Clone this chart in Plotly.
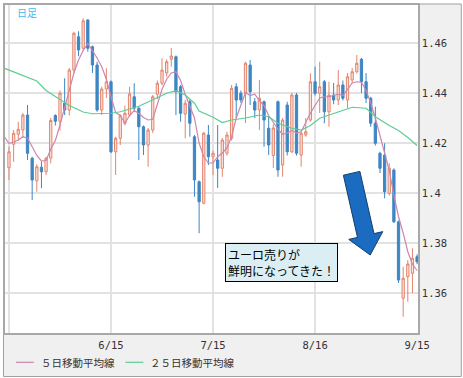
import pandas as pd
import plotly.graph_objects as go

# ---------------- data (EUR/USD daily) ----------------
# business days; first entry (5/13) only carries moving-average values
dates_all = [d.strftime("%Y-%m-%d") for d in pd.bdate_range("2011-05-13", "2011-09-15")]
candle_dates = dates_all[1:]

opens = [
    1.4101, 1.4195, 1.4235, 1.4252, 1.4312, 1.4139, 1.4049, 1.4103, 1.4085, 1.4140,
    1.4310, 1.4287, 1.4359, 1.4332, 1.4492, 1.4625, 1.4579, 1.4692, 1.4585, 1.4512,
    1.4332, 1.4416, 1.4445, 1.4165, 1.4219, 1.4279, 1.4312, 1.4385, 1.4339, 1.4265,
    1.4192, 1.4252, 1.4395, 1.4439, 1.4480, 1.4535, 1.4545, 1.4425, 1.4316, 1.4365,
    1.4225, 1.4045, 1.3959, 1.4232, 1.4145, 1.4132, 1.4099, 1.4159, 1.4219, 1.4425,
    1.4399, 1.4399, 1.4512, 1.4365, 1.4332, 1.4365, 1.4259, 1.4150, 1.4365, 1.4112,
    1.4352, 1.4165, 1.4392, 1.4152, 1.4232, 1.4292, 1.4445, 1.4399, 1.4445, 1.4325,
    1.4392, 1.4372, 1.4432, 1.4372, 1.4452, 1.4485, 1.4535, 1.4445, 1.4379, 1.4279,
    1.4159, 1.4152, 1.3999, 1.4092, 1.3885, 1.3579, 1.3665, 1.3679, 1.3745,
]
highs = [
    1.4185, 1.4252, 1.4285, 1.4320, 1.4352, 1.4145, 1.4115, 1.4125, 1.4145, 1.4300,
    1.4315, 1.4410, 1.4459, 1.4500, 1.4645, 1.4647, 1.4699, 1.4695, 1.4590, 1.4525,
    1.4425, 1.4499, 1.4450, 1.4225, 1.4315, 1.4350, 1.4425, 1.4439, 1.4345, 1.4270,
    1.4260, 1.4392, 1.4450, 1.4539, 1.4535, 1.4580, 1.4550, 1.4432, 1.4372, 1.4372,
    1.4232, 1.4050, 1.4245, 1.4272, 1.4170, 1.4272, 1.4220, 1.4245, 1.4432, 1.4439,
    1.4410, 1.4525, 1.4532, 1.4380, 1.4452, 1.4370, 1.4305, 1.4275, 1.4370, 1.4300,
    1.4365, 1.4400, 1.4400, 1.4245, 1.4300, 1.4479, 1.4505, 1.4525, 1.4452, 1.4445,
    1.4440, 1.4492, 1.4450, 1.4480, 1.4500, 1.4552, 1.4540, 1.4480, 1.4385, 1.4345,
    1.4165, 1.4199, 1.4119, 1.4099, 1.3890, 1.3705, 1.3732, 1.3779, 1.3755,
]
lows = [
    1.4052, 1.4125, 1.4210, 1.4220, 1.4132, 1.3972, 1.4005, 1.4019, 1.4072, 1.4119,
    1.4270, 1.4250, 1.4312, 1.4310, 1.4480, 1.4547, 1.4570, 1.4565, 1.4480, 1.4325,
    1.4312, 1.4380, 1.4160, 1.4072, 1.4192, 1.4270, 1.4305, 1.4325, 1.4132, 1.4152,
    1.4105, 1.4240, 1.4375, 1.4430, 1.4465, 1.4505, 1.4312, 1.4285, 1.4219, 1.4225,
    1.3985, 1.3839, 1.3955, 1.4112, 1.4072, 1.4020, 1.4065, 1.4150, 1.4210, 1.4299,
    1.4360, 1.4280, 1.4352, 1.4300, 1.4252, 1.4185, 1.4152, 1.4100, 1.4065, 1.4065,
    1.4150, 1.4160, 1.4150, 1.4105, 1.4225, 1.4285, 1.4390, 1.4320, 1.4279, 1.4265,
    1.4355, 1.4352, 1.4370, 1.4340, 1.4440, 1.4478, 1.4400, 1.4360, 1.4265, 1.4190,
    1.4080, 1.3979, 1.3990, 1.3880, 1.3640, 1.3505, 1.3565, 1.3600, 1.3715,
]
closes = [
    1.4165, 1.4239, 1.4255, 1.4312, 1.4159, 1.4052, 1.4105, 1.4085, 1.4139, 1.4290,
    1.4287, 1.4399, 1.4332, 1.4492, 1.4639, 1.4572, 1.4689, 1.4579, 1.4512, 1.4332,
    1.4416, 1.4445, 1.4165, 1.4219, 1.4309, 1.4319, 1.4396, 1.4339, 1.4265, 1.4192,
    1.4252, 1.4385, 1.4439, 1.4492, 1.4525, 1.4548, 1.4405, 1.4319, 1.4359, 1.4279,
    1.4052, 1.3965, 1.4239, 1.4145, 1.4159, 1.4099, 1.4212, 1.4232, 1.4419, 1.4372,
    1.4372, 1.4519, 1.4405, 1.4332, 1.4379, 1.4292, 1.4192, 1.4260, 1.4092, 1.4292,
    1.4165, 1.4392, 1.4159, 1.4239, 1.4245, 1.4445, 1.4399, 1.4425, 1.4325, 1.4392,
    1.4372, 1.4432, 1.4379, 1.4465, 1.4485, 1.4519, 1.4445, 1.4379, 1.4279, 1.4199,
    1.4099, 1.4005, 1.4099, 1.3885, 1.3652, 1.3659, 1.3716, 1.3739, 1.3725,
]

# 5-day moving average as drawn (one value per entry of dates_all)
ma5 = [
    1.4225, 1.4199, 1.4203, 1.4212, 1.4225, 1.4219, 1.4185, 1.4150, 1.4128, 1.4130,
    1.4175, 1.4210, 1.4272, 1.4340, 1.4405, 1.4480, 1.4532, 1.4570, 1.4598, 1.4570,
    1.4540, 1.4505, 1.4455, 1.4385, 1.4322, 1.4310, 1.4280, 1.4310, 1.4330, 1.4318,
    1.4302, 1.4292, 1.4295, 1.4355, 1.4415, 1.4455, 1.4480, 1.4485, 1.4450, 1.4395,
    1.4350, 1.4300, 1.4200, 1.4145, 1.4120, 1.4120, 1.4145, 1.4160, 1.4180, 1.4225,
    1.4300, 1.4355, 1.4402, 1.4390, 1.4395, 1.4370, 1.4350, 1.4310, 1.4280, 1.4255,
    1.4235, 1.4240, 1.4250, 1.4240, 1.4245, 1.4285, 1.4320, 1.4350, 1.4380, 1.4385,
    1.4385, 1.4390, 1.4395, 1.4390, 1.4415, 1.4440, 1.4445, 1.4443, 1.4410, 1.4360,
    1.4300, 1.4230, 1.4150, 1.4090, 1.3990, 1.3905, 1.3840, 1.3765, 1.3715, 1.3690,
]

# 25-day moving average, read at selected bars (bar number -> value; -1 = 5/13)
ma25_bars = [-1, 3, 6, 8, 10, 13, 16, 18, 22, 24, 28, 31, 34, 36, 38, 40, 41, 44, 46,
             48, 51, 54, 56, 58, 61, 63, 65, 67, 70, 72, 74, 77, 79, 82, 84, 86, 88]
ma25_vals = [1.4499, 1.4470, 1.4448, 1.4410, 1.4387, 1.4350, 1.4324, 1.4317, 1.4319,
             1.4325, 1.4347, 1.4372, 1.4399, 1.4409, 1.4392, 1.4359, 1.4328, 1.4303,
             1.4282, 1.4292, 1.4300, 1.4312, 1.4305, 1.4279, 1.4259, 1.4252, 1.4270,
             1.4299, 1.4319, 1.4332, 1.4343, 1.4339, 1.4305, 1.4270, 1.4250, 1.4222,
             1.4190]
ma25_dates = [dates_all[b + 1] for b in ma25_bars]

series_names = ["５日移動平均線", "２５日移動平均線"]
x_tickvals = ["2011-05-16", "2011-06-15", "2011-07-15", "2011-08-16", "2011-09-15"]
x_ticktext = ["", "6/15", "7/15", "8/16", "9/15"]
y_tickvals = [1.36, 1.38, 1.40, 1.42, 1.44, 1.46]
y_ticktext = ["1.36", "1.38", "1.4", "1.42", "1.44", "1.46"]

# ---------------- styling ----------------
W, H = 463, 378
ML, MR, MT, MB = 3, 45, 5, 45
PW, PH = W - ML - MR, H - MT - MB


def paper(px, py):
    return ((px - ML) / PW, 1 - (py - MT) / PH)


UP_LINE = "#e4846c"
UP_FILL = "#fbe2da"
DOWN = "#3d86c4"
MA5_COLOR = "#cf86ab"
MA25_COLOR = "#5ccd92"
MONO = "DejaVu Sans Mono"
JP = "Noto Sans CJK JP"

fig = go.Figure()
fig.add_trace(go.Candlestick(
    x=candle_dates, open=opens, high=highs, low=lows, close=closes,
    increasing=dict(line=dict(color=UP_LINE, width=1), fillcolor=UP_FILL),
    decreasing=dict(line=dict(color=DOWN, width=1), fillcolor=DOWN),
    whiskerwidth=0, showlegend=False, hoverinfo="skip",
))
fig.add_trace(go.Scatter(
    x=dates_all, y=ma5, mode="lines", name=series_names[0],
    line=dict(color=MA5_COLOR, width=1.2),
))
fig.add_trace(go.Scatter(
    x=ma25_dates, y=ma25_vals, mode="lines", name=series_names[1],
    line=dict(color=MA25_COLOR, width=1.2),
))

# arrow outline (pixel positions -> paper coords)
arrow_px = [(343.0, 175.2), (359.6, 171.4), (373.8, 233.6), (382.6, 231.6),
            (370.0, 255.0), (348.4, 239.4), (357.2, 237.4)]
arrow_path = "M " + " L ".join("%.4f,%.4f" % paper(x, y) for x, y in arrow_px) + " Z"

ox0, oy1 = paper(1.5, 4)
ox1, oy0 = paper(461.5, 376.5)

# legend drawn by hand so the short line samples match the original
legend_y = paper(0, 362.3)[1]
legend_items = [(14, 32, 37, MA5_COLOR, series_names[0]),
                (124, 142, 147, MA25_COLOR, series_names[1])]
legend_shapes, legend_texts = [], []
for lx0, lx1, tx, col, name in legend_items:
    legend_shapes.append(dict(type="line", xref="paper", yref="paper",
                              x0=paper(lx0, 0)[0], x1=paper(lx1, 0)[0],
                              y0=legend_y, y1=legend_y,
                              line=dict(color=col, width=1.2)))
    legend_texts.append(dict(text=name, xref="paper", yref="paper",
                             x=paper(tx, 0)[0], y=legend_y, xanchor="left",
                             yanchor="middle", showarrow=False,
                             font=dict(family=JP, size=10.5, color="#333333")))

fig.update_layout(
    width=W, height=H,
    margin=dict(l=ML, r=MR, t=MT, b=MB),
    paper_bgcolor="white", plot_bgcolor="white",
    font=dict(family=MONO, size=10.5, color="#333333"),
    xaxis=dict(
        type="category", categoryorder="array", categoryarray=dates_all,
        range=[0.1416, 89.197], rangeslider=dict(visible=False),
        tickmode="array", tickvals=x_tickvals, ticktext=x_ticktext,
        showgrid=True, gridcolor="#e2e2e2", gridwidth=1.5,
        showline=True, mirror=True, linecolor="#a8a8a8", linewidth=1.5,
        ticks="", ticklabelstandoff=2,
        tickfont=dict(family=MONO, size=10.5, color="#333333"),
        fixedrange=True,
    ),
    yaxis=dict(
        side="right", range=[1.344, 1.4752],
        tickmode="array", tickvals=y_tickvals, ticktext=y_ticktext,
        showgrid=True, gridcolor="#e2e2e2", gridwidth=1.5,
        showline=True, mirror=True, linecolor="#a8a8a8", linewidth=1.5,
        ticks="", zeroline=False,
        tickfont=dict(family=MONO, size=10.5, color="#333333"),
        fixedrange=True,
    ),
    showlegend=False,
    shapes=[
        dict(type="rect", xref="paper", yref="paper", x0=ox0, x1=ox1, y0=oy0, y1=oy1,
             fillcolor="#f0f0f0", line=dict(color="#a0a0a0", width=1), layer="below"),
        dict(type="rect", xref="paper", yref="paper", x0=0, x1=1, y0=0, y1=1,
             fillcolor="white", line=dict(width=0), layer="below"),
        dict(type="path", xref="paper", yref="paper", path=arrow_path,
             fillcolor="#1b6cc0", line=dict(color="#12406e", width=1), layer="above"),
    ] + legend_shapes,
    annotations=[
        dict(text="日足", xref="paper", yref="paper",
             x=paper(13, 0)[0], y=paper(0, 12.5)[1], xanchor="left", yanchor="middle",
             showarrow=False, font=dict(family=JP, size=10, color="#3cbdf0")),
        dict(text="ユーロ売りが<br>鮮明になってきた！", xref="paper", yref="paper",
             x=paper(224, 0)[0], y=paper(0, 243)[1], xanchor="left", yanchor="top",
             align="left", showarrow=False, bgcolor="#daeef4", bordercolor="#000000",
             borderwidth=1, borderpad=2, font=dict(family=JP, size=12, color="#000000")),
    ] + legend_texts,
)

fig.write_html("out.html", config={"displayModeBar": False})
